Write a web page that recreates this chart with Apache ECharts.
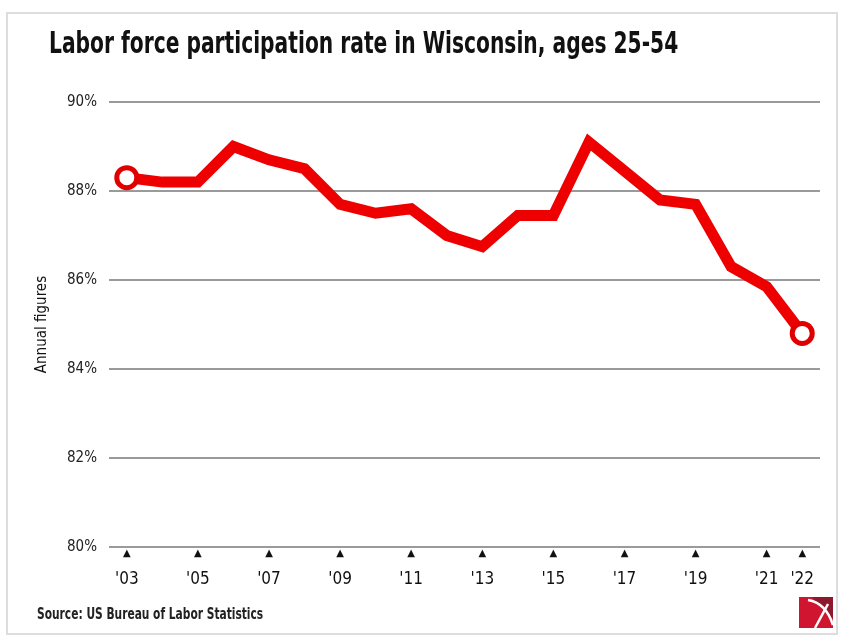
<!DOCTYPE html>
<html>
<head>
<meta charset="utf-8">
<script src="https://cdn.jsdelivr.net/npm/echarts@6/dist/echarts.min.js"></script>
<style>
html,body{margin:0;padding:0;background:#fff;}
#chart{width:853px;height:644px;}
</style>
</head>
<body>
<div id="chart"></div>
<script>
const titleText = 'Labor force participation rate in Wisconsin, ages 25-54';
const sourceText = 'Source: US Bureau of Labor Statistics';
const years = ['2003','2004','2005','2006','2007','2008','2009','2010','2011','2012','2013','2014','2015','2016','2017','2018','2019','2020','2021','2022'];
const tickLabels = ["'03","","'05","","'07","","'09","","'11","","'13","","'15","","'17","","'19","","'21","'22"];
const rates = [88.3,88.2,88.2,89.0,88.7,88.5,87.7,87.5,87.6,87.0,86.75,87.45,87.45,89.1,88.45,87.8,87.7,86.3,85.85,84.8];
const yTicks = [80,82,84,86,88,90];

const FONT = '"DejaVu Sans Condensed","Liberation Sans",sans-serif';
const chart = echarts.init(document.getElementById('chart'));

const seriesData = rates.map((v,i)=>({
  value: v,
  symbol: (i===0 || i===rates.length-1) ? 'circle' : 'none'
}));

chart.setOption({
  backgroundColor:'#fff',
  animation:false,
  grid:{left:109, right:33, top:102, bottom:97},
  xAxis:{
    type:'category',
    data:years,
    boundaryGap:true,
    axisLine:{show:false},
    axisTick:{show:false},
    axisLabel:{
      interval:(idx)=>tickLabels[idx]!=='',
      margin:0,
      formatter:(val,idx)=>'{t|▲}\n{y|'+tickLabels[idx]+'}',
      rich:{
        t:{fontSize:10, lineHeight:13, color:'#111', fontFamily:'DejaVu Sans'},
        y:{fontSize:17, lineHeight:40, color:'#111', fontFamily:FONT}
      }
    }
  },
  yAxis:{
    type:'value',
    min:80, max:90, interval:2,
    name:'Annual figures',
    nameLocation:'middle',
    nameRotate:90,
    nameGap:59,
    nameTextStyle:{fontFamily:FONT, fontSize:15, color:'#111'},
    axisLine:{show:false},
    axisTick:{show:false},
    axisLabel:{
      formatter:(v)=>yTicks.includes(v)? v+'%' : '',
      fontFamily:FONT, fontSize:15, color:'#222', margin:12
    },
    splitLine:{lineStyle:{color:'#9a9a9a', width:2}}
  },
  series:[{
    type:'line',
    data:seriesData,
    symbolSize:20,
    showSymbol:true,
    lineStyle:{color:'#ee0000', width:11, join:'miter'},
    itemStyle:{color:'#ffffff', borderColor:'#e00000', borderWidth:5},
    z:5
  }],
  graphic:[
    {type:'rect', shape:{x:7,y:13,width:830,height:621}, style:{fill:'none', stroke:'#dddddd', lineWidth:2}, z:-1},
    {type:'text', x:49, y:30, scaleX:0.75, style:{text:titleText, font:'bold 30px '+FONT, fill:'#111', verticalAlign:'top'}},
    {type:'text', x:37, y:608, scaleX:0.79, style:{text:sourceText, font:'bold 15px '+FONT, fill:'#222', verticalAlign:'top'}},
    {type:'group', x:799, y:597, children:[
      {type:'rect', shape:{x:0,y:0,width:34,height:31}, style:{fill:'#cf1530'}},
      {type:'polygon', shape:{points:[[13,0],[34,0],[34,22]]}, style:{fill:'#8c1a2c'}},
      {type:'bezierCurve', shape:{x1:9,y1:3,cpx1:27,cpy1:6,x2:34,y2:28}, style:{stroke:'#fff', lineWidth:2.5, fill:'none'}},
      {type:'line', shape:{x1:29,y1:7,x2:16,y2:31}, style:{stroke:'#fff', lineWidth:2.5}}
    ]}
  ]
});
</script>
</body>
</html>
